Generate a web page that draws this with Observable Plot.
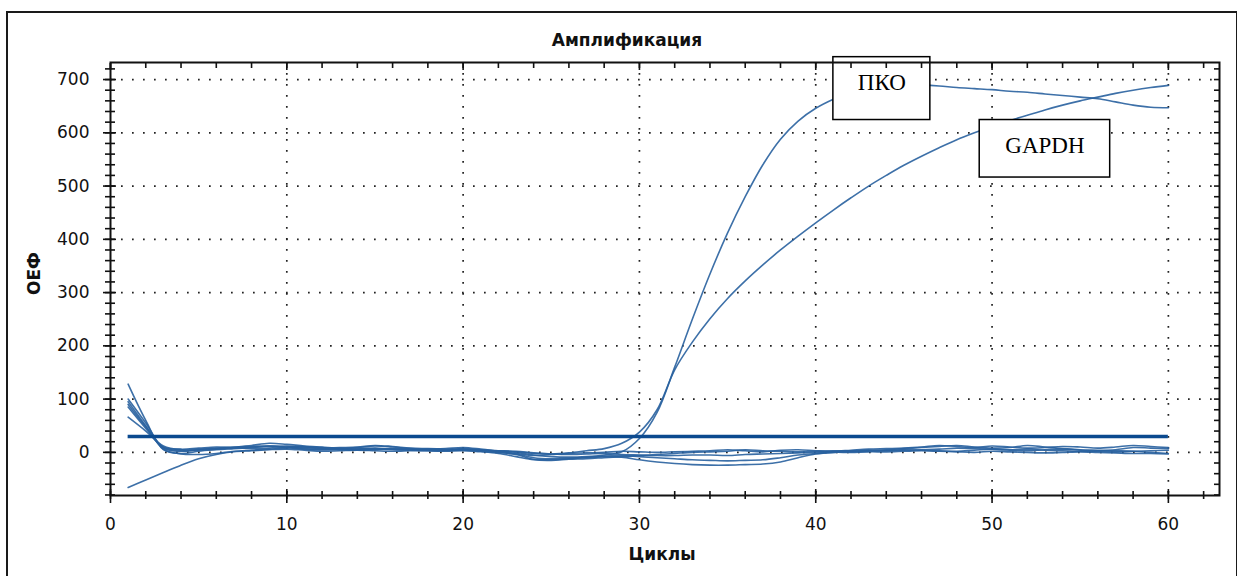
<!DOCTYPE html>
<html><head><meta charset="utf-8">
<script src="https://cdn.jsdelivr.net/npm/d3@7"></script>
<script src="https://cdn.jsdelivr.net/npm/@observablehq/plot@0.6"></script>
<style>
html,body{margin:0;padding:0;background:#fff;}
#wrap{position:relative;width:1237px;height:576px;overflow:hidden;}
#border{position:absolute;left:6px;top:11px;width:1228px;height:640px;border:2px solid #1a1a1a;pointer-events:none;}
#wrap svg{position:absolute;left:0;top:0;}
</style></head><body><div id="wrap"><div id="border"></div></div>
<script>
const title = "Амплификация";
const xLabel = "Циклы";
const yLabel = "ОЕФ";
const cycles = d3.range(1, 61);

const pko = [100,55,8,2,5,8,10,11,12,10,7,5,6,8,7,5,4,3,4,7,5,2,0,-5,-8,-9,-8,-5,1,26,75,160,250,335,412,480,540,588,622,646,663,676,684,689,691,690,688,685,683,681,678,676,673,670,667,664,658,652,648,647];
const gapdh = [95,50,6,-3,-4,-2,2,4,6,8,9,7,6,5,6,7,6,4,3,5,4,3,1,-2,-3,-1,3,7,17,38,80,155,207,251,289,322,352,380,406,431,455,478,500,520,539,556,572,587,600,612,623,633,643,652,660,667,674,680,685,689];
const neg1 = [128,60,5,-2,2,6,9,13,17,15,12,10,8,9,12,10,7,6,5,6,3,0,-4,-13,-14,-12,-10,-8,-9,-14,-18,-21,-23,-24,-24,-23,-22,-18,-10,-3,0,1,2,3,4,5,6,8,7,6,5,6,4,3,2,3,5,9,8,7];
const neg2 = [90,48,10,6,8,10,9,7,8,10,11,9,7,6,8,6,5,6,7,9,6,2,-2,-6,-4,-2,-1,0,2,1,0,1,2,3,5,3,1,4,5,3,2,4,6,7,8,10,13,11,9,12,10,8,9,11,10,8,10,13,11,9];
const neg3 = [85,45,9,3,4,5,7,9,11,12,10,8,9,10,13,11,8,7,6,5,4,3,2,-1,-3,-4,-3,-2,-4,-5,-6,-6,-5,-5,-6,-4,-3,-2,-1,0,1,2,3,4,5,4,3,2,4,6,4,3,5,6,4,2,1,2,3,4];
const neg4 = [66,40,12,5,6,7,8,10,12,9,6,5,5,4,5,6,5,3,2,3,1,-2,-8,-14,-15,-13,-12,-10,-8,-6,-4,-2,0,1,2,5,3,2,1,2,3,3,4,5,7,9,11,13,10,8,9,13,10,7,5,4,3,2,0,-2];
const neg5 = [-66,-52,-38,-24,-12,-4,1,3,5,6,4,2,3,4,3,2,3,4,5,4,2,0,-3,-10,-12,-11,-9,-7,-6,-8,-10,-12,-14,-15,-16,-15,-14,-10,-5,-2,0,0,1,1,2,3,2,1,0,2,1,0,-1,0,1,0,-1,-2,-2,-3];

const seriesNames = ["ПКО", "GAPDH", "K1", "K2", "K3", "K4", "K5"];
const seriesValues = [pko, gapdh, neg1, neg2, neg3, neg4, neg5];

const threshold = [{value: 30, from: 1, to: 60}];
const annotations = [
  {label: "ПКО", x1: 41.0, x2: 46.5, y1: 624, y2: 742, ty: 694},
  {label: "GAPDH", x1: 49.3, x2: 56.7, y1: 516, y2: 624, ty: 576}
];

const xMajorTicks = [0, 10, 20, 30, 40, 50, 60];
const xGridTicks = [10, 20, 30, 40, 50, 60];
const xMinorTicks = d3.range(0, 63, 2);
const yMajorTicks = [0, 100, 200, 300, 400, 500, 600, 700];
const yMinorTicks = d3.range(-80, 721, 20);

const rows = [];
seriesNames.forEach((name, i) => {
  cycles.forEach((c, j) => rows.push({series: name, cycle: c, value: seriesValues[i][j]}));
});

const lineColor = "#28609f";
const blank = () => "";

const chart = Plot.plot({
  width: 1237, height: 576,
  marginTop: 62, marginRight: 18, marginBottom: 81, marginLeft: 110,
  x: {domain: [0, 62.9], axis: null},
  y: {domain: [-81, 732], axis: null},
  style: {fontFamily: "DejaVu Sans, sans-serif", fontSize: "17px", color: "#111", background: "transparent", overflow: "visible"},
  marks: [
    Plot.gridY(yMajorTicks, {stroke: "#222", strokeOpacity: 1, strokeWidth: 1.7, strokeDasharray: "1.7,9.3"}),
    Plot.gridX(xGridTicks, {stroke: "#222", strokeOpacity: 1, strokeWidth: 1.7, strokeDasharray: "1.7,9.3"}),
    Plot.line(rows, {x: "cycle", y: "value", z: "series", stroke: lineColor, strokeWidth: 1.6, strokeOpacity: 0.9, curve: "catmull-rom"}),
    Plot.ruleY(threshold, {y: "value", x1: "from", x2: "to", stroke: "#0b4a8f", strokeWidth: 3.5}),
    Plot.rect(annotations, {x1: "x1", x2: "x2", y1: "y1", y2: "y2", fill: "white", stroke: "black", strokeWidth: 1.5}),
    Plot.text(annotations, {x: d => (d.x1 + d.x2) / 2, y: "ty", text: "label", fontFamily: "Liberation Serif, Times New Roman, serif", fontSize: 23, fill: "black"}),
    Plot.frame({stroke: "#111", strokeWidth: 2}),
    Plot.axisY(yMinorTicks, {anchor: "left", tickSize: 10, dx: 5, tickFormat: blank, label: null, strokeWidth: 1.6}),
    Plot.axisY(yMajorTicks, {anchor: "left", tickSize: 13, dx: 6, tickFormat: blank, label: null, strokeWidth: 1.6}),
    Plot.axisY(yMajorTicks, {anchor: "left", tickSize: 0, tickPadding: 21, label: null, fontSize: 17}),
    Plot.axisY(yMinorTicks, {anchor: "right", tickSize: 6, dx: -6, tickFormat: blank, label: null, strokeWidth: 1.6}),
    Plot.axisX(xMinorTicks, {anchor: "top", tickSize: 5, dy: 5, tickFormat: blank, label: null, strokeWidth: 1.6}),
    Plot.axisX(xMajorTicks, {anchor: "top", tickSize: 7, dy: 7, tickFormat: blank, label: null, strokeWidth: 1.6}),
    Plot.axisX(xMinorTicks, {anchor: "bottom", tickSize: 8, dy: -4, tickFormat: blank, label: null, strokeWidth: 1.6}),
    Plot.axisX(xMajorTicks, {anchor: "bottom", tickSize: 14, dy: -6, tickFormat: blank, label: null, strokeWidth: 1.6}),
    Plot.axisX(xMajorTicks, {anchor: "bottom", tickSize: 0, tickPadding: 22, label: null, fontSize: 17}),
    Plot.text([title], {frameAnchor: "top", lineAnchor: "middle", dy: -22, dx: -38, fontWeight: "bold", fontSize: 17, fill: "#111"}),
    Plot.text([xLabel], {frameAnchor: "bottom", lineAnchor: "middle", dy: 59, dx: -3, fontWeight: "bold", fontSize: 17, fill: "#111"}),
    Plot.text([yLabel], {frameAnchor: "left", lineAnchor: "middle", dx: -76, dy: 16, rotate: -90, fontWeight: "bold", fontSize: 17, fill: "#111"})
  ]
});
document.getElementById("wrap").insertBefore(chart, document.getElementById("border"));
</script>
</body></html>
